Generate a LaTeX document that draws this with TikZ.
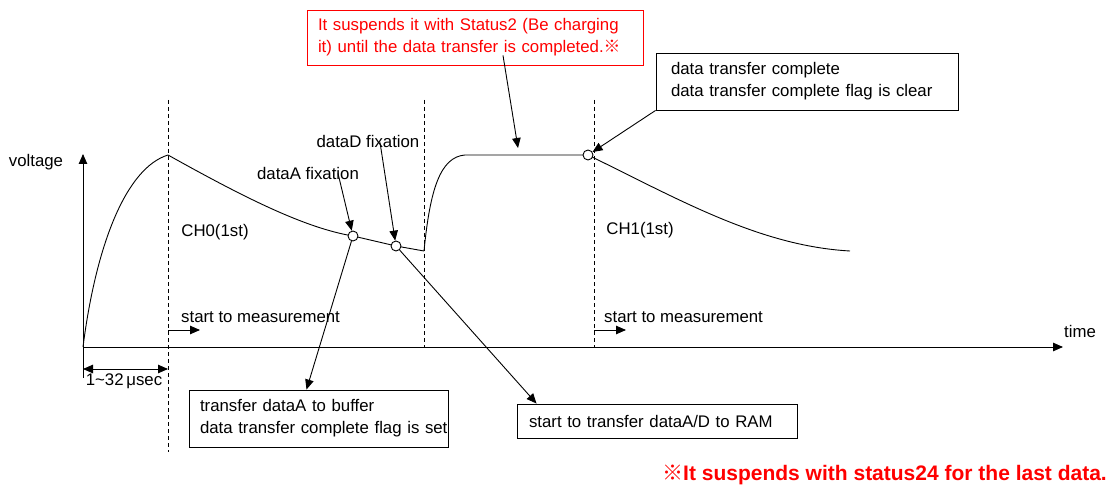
\documentclass[tikz,border=0pt]{standalone}
\usepackage{fontspec}
\setmainfont{Liberation Sans}
\newfontfamily\cjk{Noto Sans CJK JP}
\newcommand\kome{{\cjk ※}}
\usetikzlibrary{arrows.meta}
\definecolor{alert}{RGB}{255,0,0}
\tikzset{
  txt/.style={font=\fontsize{16.8}{22}\selectfont, inner sep=0pt},
  box/.style={draw, line width=0.9pt, align=left, inner ysep=0pt,
              font=\fontsize{16.8}{22}\selectfont},
  tip/.tip={Triangle[length=10pt,width=8.5pt]},
  arr/.style={-tip, line width=0.9pt},
  guide/.style={dash pattern=on 4pt off 3pt, line width=0.9pt},
  curve/.style={line width=0.9pt},
  mark circ/.style={circle, draw, fill=white, line width=0.9pt,
                    minimum size=10pt, inner sep=0pt},
}
\begin{document}
\begin{tikzpicture}[x=1pt,y=-1pt]
\useasboundingbox (0,0) rectangle (1110,486);

% axes
\coordinate (O) at (83,347);
\coordinate (Ytop) at (83,154);
\coordinate (Xend) at (1063,347);
\draw[arr] (O) -- (Ytop);
\draw[arr] (O) -- (Xend);
\draw[line width=0.9pt] (O) -- (83,378);
\node[txt] (vlab) at (36,162) {voltage};
\node[txt] (tlab) at (1080,331) {time};

% channel boundaries
\draw[guide] (168,100) -- (168,452);
\draw[guide] (424,100) -- (424,347);
\draw[guide] (594,100) -- (594,347);

% voltage waveform
\coordinate (pA) at (353,236);
\coordinate (pD) at (396,246);
\coordinate (pC) at (588,155);
\draw[curve] (O) .. controls (96,245) and (126,168) .. (168,155)
  .. controls (245,198) and (305,228) .. (pA)
  -- (pD) -- (424,251);
\draw[curve] (424,251) .. controls (430,190) and (440,157) .. (465,155)
  -- (pC) .. controls (680,200) and (760,246) .. (850,251);

% sampling marks
\node[mark circ] (cA) at (pA) {};
\node[mark circ] (cD) at (pD) {};
\node[mark circ] (cC) at (pC) {};

% channel labels
\node[txt] (ch0) at (215,232) {CH0(1st)};
\node[txt] (ch1) at (640,230) {CH1(1st)};

% start of measurement
\node[txt, anchor=west] (m0) at (181,317) {start to measurement};
\node[txt, anchor=west] (m1) at (604,317) {start to measurement};
\coordinate (m0a) at (168,330);
\coordinate (m0b) at (200,330);
\coordinate (m1a) at (594,330);
\coordinate (m1b) at (626,330);
\draw[arr] (m0a) -- (m0b);
\draw[arr] (m1a) -- (m1b);

% conversion time
\coordinate (d0) at (83,369);
\coordinate (d1) at (168,369);
\draw[tip-tip, line width=0.9pt] (d0) -- (d1);
\node[txt] (dim) at (124,381) {1\textasciitilde32\,μsec};

% fixation labels
\node[txt] (fA) at (308,173) {dataA fixation};
\node[txt] (fD) at (368,141) {dataD fixation};
\draw[arr] ([xshift=30pt,yshift=6pt]fA.south) -- (cA);
\draw[arr] ([xshift=12pt,yshift=5pt]fD.south) -- (cD);

% note boxes
\node[box, draw=alert, text=alert, text width=314pt, inner xsep=11pt,
      minimum height=55pt] (note) at (475,37.5)
  {\mbox{It suspends it with Status2 (Be charging}\\
   \mbox{it) until the data transfer is completed.\kome}};
\node[box, text width=272pt, inner xsep=15pt, minimum height=57pt]
  (done) at (807,81.5)
  {\mbox{data transfer complete}\\
   \mbox{data transfer complete flag is clear}};
\node[box, text width=237pt, inner xsep=11pt, minimum height=57pt]
  (buf) at (318.5,418.5)
  {\mbox{transfer dataA to buffer}\\
   \mbox{data transfer complete flag is set}};
\node[box, text width=256pt, inner xsep=12pt, minimum height=34pt]
  (ram) at (657,421)
  {\mbox{start to transfer dataA/D to RAM}};

\coordinate (hold) at (518,148);
\draw[arr] ([xshift=28pt,yshift=10pt]note.south) -- (hold);
\draw[arr] (done.south west) -- (cC);
\draw[arr] (cA) -- ([xshift=-12pt]buf.north);
\draw[arr] (cD) -- ([xshift=20pt]ram.north west);

% footnote
\node[anchor=east, inner sep=0pt, text=alert,
      font=\fontsize{21}{24}\selectfont\bfseries] (foot) at (1107,475)
  {\kome It suspends with status24 for the last data.};
\end{tikzpicture}
\end{document}
